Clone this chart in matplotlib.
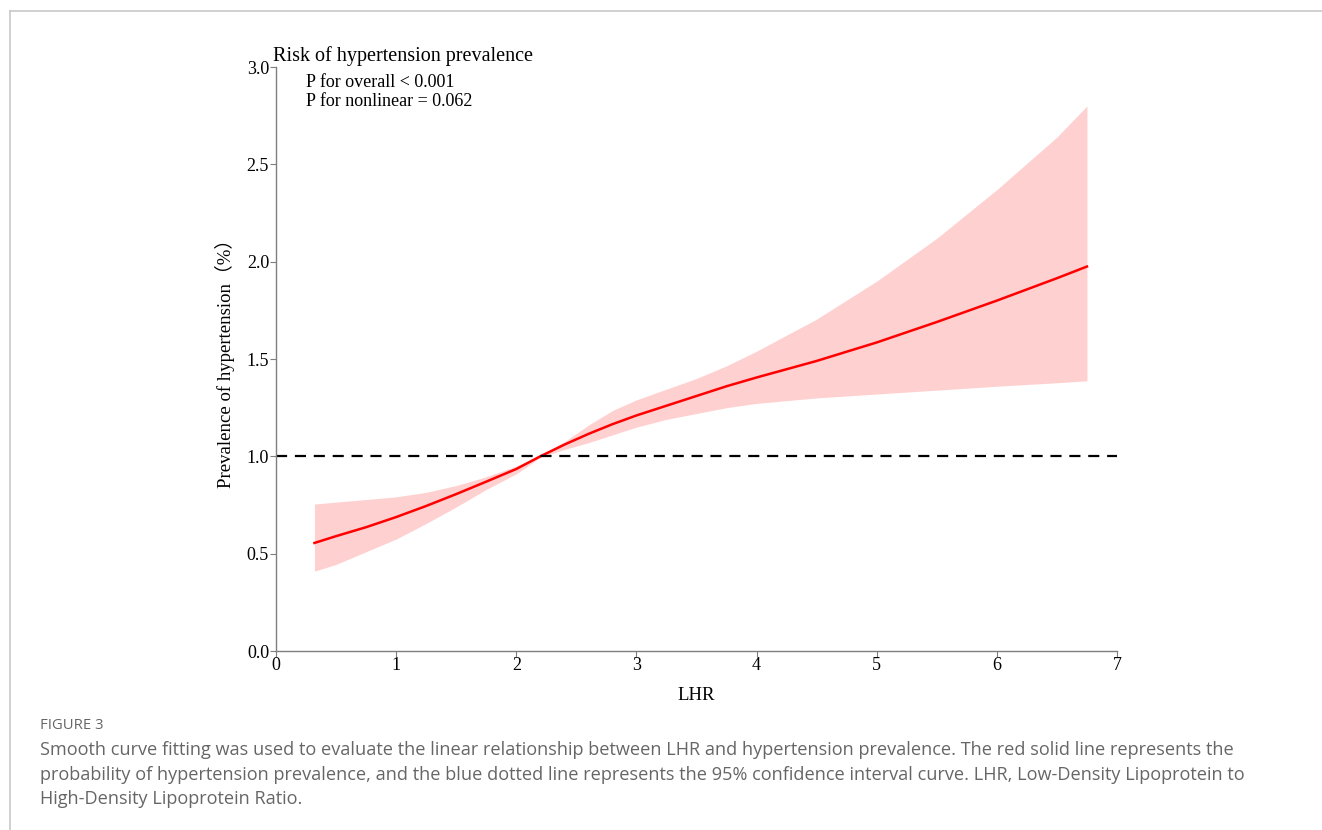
import numpy as np
import matplotlib.pyplot as plt
from matplotlib.lines import Line2D

# values
lhr = [0.32, 0.5, 0.75, 1.0, 1.25, 1.5, 1.75, 2.0, 2.2, 2.4, 2.6, 2.8, 3.0,
       3.25, 3.5, 3.75, 4.0, 4.5, 5.0, 5.5, 6.0, 6.5, 6.75]
prev = [0.555, 0.59, 0.636, 0.688, 0.745, 0.806, 0.87, 0.935, 1.0, 1.06, 1.115, 1.165, 1.21,
        1.26, 1.31, 1.36, 1.405, 1.49, 1.585, 1.69, 1.80, 1.915, 1.975]
upper = [0.755, 0.765, 0.778, 0.792, 0.815, 0.85, 0.895, 0.95, 1.005, 1.075, 1.16, 1.235, 1.29,
         1.345, 1.40, 1.465, 1.54, 1.705, 1.90, 2.12, 2.37, 2.64, 2.80]
lower = [0.41, 0.445, 0.51, 0.575, 0.655, 0.74, 0.83, 0.91, 0.995, 1.035, 1.07, 1.11, 1.15,
         1.19, 1.22, 1.25, 1.272, 1.30, 1.32, 1.34, 1.36, 1.378, 1.388]

xticks = [0, 1, 2, 3, 4, 5, 6, 7]
yticks = [0.0, 0.5, 1.0, 1.5, 2.0, 2.5, 3.0]

serif = ['Liberation Serif', 'Noto Sans CJK SC']
gray = '#7f7f7f'

fig = plt.figure(figsize=(13.22, 8.30), dpi=100)
ax = fig.add_axes([276/1322, 1 - 651/830, (1117-276)/1322, (651-67)/830])

ax.fill_between(lhr, lower, upper, color='#ffd0d0', linewidth=0)
ax.plot(lhr, prev, color='#ff0000', linewidth=1.8)
ax.axhline(1.0, color='black', linestyle=(0, (5, 3.5)), linewidth=1.6)

ax.set_xlim(0, 7)
ax.set_ylim(0, 3.0)
ax.set_xticks(xticks)
ax.set_xticklabels([str(t) for t in xticks], family=serif, fontsize=13)
ax.set_yticks(yticks)
ax.set_yticklabels(['%.1f' % t for t in yticks], family=serif, fontsize=13)
ax.tick_params(color=gray, length=4, width=0.8, pad=1)
ax.tick_params(axis='x', pad=0)
for s in ['top', 'right']:
    ax.spines[s].set_visible(False)
for s in ['left', 'bottom']:
    ax.spines[s].set_color(gray)
    ax.spines[s].set_linewidth(1.0)

ax.set_xlabel('LHR', family=serif, fontsize=13.5, labelpad=10)
ax.set_ylabel('Prevalence of hypertension（%）', family=serif, fontsize=13.5, labelpad=8)

ax.text(-0.003, 1.01, 'Risk of hypertension prevalence', transform=ax.transAxes,
        family=serif, fontsize=14.5, ha='left', va='baseline')
ax.text(0.036, 0.988, 'P for overall < 0.001\nP for nonlinear = 0.062', transform=ax.transAxes,
        family=serif, fontsize=13, ha='left', va='top', linespacing=1.15)

# page frame lines
fig.add_artist(Line2D([9.5/1322, 1], [1 - 11.5/830, 1 - 11.5/830], color='#c8c8c8', linewidth=1.2))
fig.add_artist(Line2D([9.5/1322, 9.5/1322], [0, 1 - 11.5/830], color='#c8c8c8', linewidth=1.2))

cap = '#666666'
fig.text(40/1322, 1 - 725/830, 'FIGURE 3', family='Open Sans', fontsize=10.7, color=cap, va='center')
lines = ['Smooth curve fitting was used to evaluate the linear relationship between LHR and hypertension prevalence. The red solid line represents the',
         'probability of hypertension prevalence, and the blue dotted line represents the 95% confidence interval curve. LHR, Low-Density Lipoprotein to',
         'High-Density Lipoprotein Ratio.']
for i, t in enumerate(lines):
    fig.text(40/1322, 1 - (750 + 24.5*i)/830, t, family='Open Sans', fontsize=13.05, color=cap, va='center')

fig.savefig('out.png', dpi=100)
